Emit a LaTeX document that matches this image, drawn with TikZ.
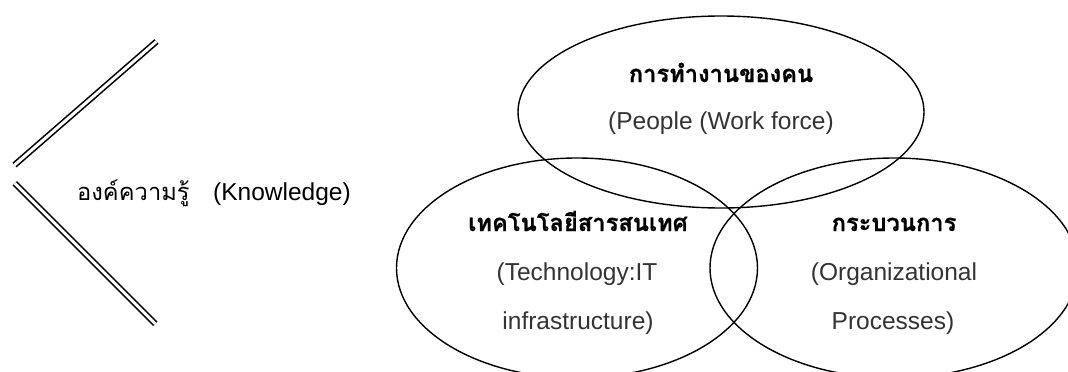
\documentclass[tikz,border=0pt]{standalone}
\usepackage{fontspec}
\setmainfont{Liberation Sans}
\newfontfamily\thaifont[Script=Thai, Scale=1.03, BoldFeatures={FakeBold=0.8}]{Loma}
\usetikzlibrary{shapes.geometric}
\definecolor{subgray}{HTML}{333333}
\tikzset{
  venn/.style={ellipse, draw=black, line width=1.4pt, inner sep=0pt},
  headtext/.style={anchor=base, font=\fontsize{23}{27}\selectfont\thaifont\bfseries},
  subtext/.style={anchor=base, text=subgray, font=\fontsize{24.5}{28}\selectfont},
  bracket/.style={double, double distance=3pt, line width=1.6pt}
}

\begin{document}
\begin{tikzpicture}[x=1pt, y=-1pt]
	\useasboundingbox (0,0) rectangle (1068,372);

	% the bracket on the left
	\coordinate (uptop) at (156.5,41.5);
	\coordinate (upend) at (14.5,165);
	\coordinate (lowtop) at (14.7,183.3);
	\coordinate (lowend) at (155.3,323.8);
	\draw[bracket] (upend) -- (uptop);
	\draw[bracket] (lowtop) -- (lowend);
	\node[anchor=base west, inner sep=0pt, font=\fontsize{23}{27}\selectfont\thaifont] (knowthai) at (77,200) {องค์ความรู้};
	\node[anchor=base west, inner sep=0pt, font=\fontsize{24.5}{28}\selectfont] (knowledge) at (213,200) {(Knowledge)};

	% the three ellipses
	\node[venn, minimum width=406, minimum height=192] (people) at (721,112) {};
	\node[venn, minimum width=361, minimum height=220] (tech) at (577,268) {};
	\node[venn, minimum width=368, minimum height=220] (process) at (894,268) {};

	% texts
	\node[headtext] (peoplehead) at (721,82) {การทำงานของคน};
	\node[subtext] (peoplesub) at (721,129) {(People (Work force)};

	\node[headtext] (techhead) at (578,231) {เทคโนโลยีสารสนเทศ};
	\node[subtext] (techsub) at (577,280) {(Technology:IT};
	\node[subtext] (techsubb) at (578,329) {infrastructure)};

	\node[headtext] (prochead) at (894,231) {กระบวนการ};
	\node[subtext] (procsub) at (894,280) {(Organizational};
	\node[subtext] (procsubb) at (893,329) {Processes)};
\end{tikzpicture}
\end{document}
